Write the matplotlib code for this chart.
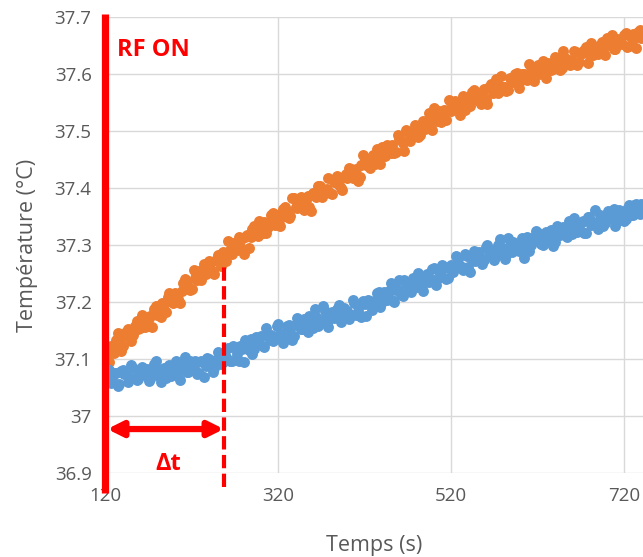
import matplotlib.pyplot as plt

# Sample times (s), first pass every 4 s
temps = [
    120, 124, 128, 132, 136, 140, 144, 148, 152, 156, 160, 164, 168, 172, 176, 180,
    184, 188, 192, 196, 200, 204, 208, 212, 216, 220, 224, 228, 232, 236, 240, 244,
    248, 252, 256, 260, 264, 268, 272, 276, 280, 284, 288, 292, 296, 300, 304, 308,
    312, 316, 320, 324, 328, 332, 336, 340, 344, 348, 352, 356, 360, 364, 368, 372,
    376, 380, 384, 388, 392, 396, 400, 404, 408, 412, 416, 420, 424, 428, 432, 436,
    440, 444, 448, 452, 456, 460, 464, 468, 472, 476, 480, 484, 488, 492, 496, 500,
    504, 508, 512, 516, 520, 524, 528, 532, 536, 540, 544, 548, 552, 556, 560, 564,
    568, 572, 576, 580, 584, 588, 592, 596, 600, 604, 608, 612, 616, 620, 624, 628,
    632, 636, 640, 644, 648, 652, 656, 660, 664, 668, 672, 676, 680, 684, 688, 692,
    696, 700, 704, 708, 712, 716, 720, 724, 728, 732, 736, 740,
]
# Intermediate samples
temps_mid = [
    122, 126, 130, 134, 138, 142, 146, 150, 154, 158, 162, 166, 170, 174, 178, 182,
    186, 190, 194, 198, 202, 206, 210, 214, 218, 222, 226, 230, 234, 238, 242, 246,
    250, 254, 258, 262, 266, 270, 274, 278, 282, 286, 290, 294, 298, 302, 306, 310,
    314, 318, 322, 326, 330, 334, 338, 342, 346, 350, 354, 358, 362, 366, 370, 374,
    378, 382, 386, 390, 394, 398, 402, 406, 410, 414, 418, 422, 426, 430, 434, 438,
    442, 446, 450, 454, 458, 462, 466, 470, 474, 478, 482, 486, 490, 494, 498, 502,
    506, 510, 514, 518, 522, 526, 530, 534, 538, 542, 546, 550, 554, 558, 562, 566,
    570, 574, 578, 582, 586, 590, 594, 598, 602, 606, 610, 614, 618, 622, 626, 630,
    634, 638, 642, 646, 650, 654, 658, 662, 666, 670, 674, 678, 682, 686, 690, 694,
    698, 702, 706, 710, 714, 718, 722, 726, 730, 734, 738,
]

# Orange series (°C)
temp_orange = [
    37.101, 37.095, 37.116, 37.133, 37.126, 37.123, 37.147, 37.144, 37.142, 37.167,
    37.155, 37.168, 37.158, 37.175, 37.187, 37.177, 37.174, 37.197, 37.209, 37.201,
    37.215, 37.206, 37.220, 37.240, 37.224, 37.223, 37.243, 37.254, 37.249, 37.249,
    37.272, 37.255, 37.274, 37.271, 37.287, 37.272, 37.291, 37.304, 37.291, 37.307,
    37.285, 37.317, 37.314, 37.333, 37.316, 37.329, 37.340, 37.332, 37.352, 37.336,
    37.353, 37.349, 37.366, 37.348, 37.382, 37.366, 37.376, 37.367, 37.379, 37.366,
    37.392, 37.385, 37.403, 37.389, 37.399, 37.392, 37.411, 37.422, 37.401, 37.419,
    37.418, 37.434, 37.422, 37.412, 37.440, 37.449, 37.440, 37.455, 37.442, 37.458,
    37.473, 37.456, 37.467, 37.476, 37.463, 37.487, 37.480, 37.502, 37.483, 37.499,
    37.498, 37.494, 37.518, 37.506, 37.517, 37.541, 37.517, 37.516, 37.538, 37.538,
    37.536, 37.553, 37.537, 37.549, 37.538, 37.559, 37.568, 37.557, 37.554, 37.568,
    37.557, 37.578, 37.567, 37.591, 37.579, 37.577, 37.571, 37.593, 37.587, 37.602,
    37.588, 37.600, 37.590, 37.606, 37.588, 37.616, 37.604, 37.612, 37.620, 37.607,
    37.630, 37.617, 37.611, 37.629, 37.625, 37.623, 37.639, 37.621, 37.638, 37.648,
    37.635, 37.633, 37.644, 37.652, 37.641, 37.664, 37.651, 37.645, 37.661, 37.654,
    37.669, 37.648, 37.666, 37.663, 37.675, 37.664,
]
temp_orange_mid = [
    37.088, 37.123, 37.111, 37.146, 37.114, 37.141, 37.153, 37.131, 37.158, 37.153,
    37.178, 37.156, 37.172, 37.156, 37.193, 37.181, 37.199, 37.182, 37.216, 37.198,
    37.212, 37.199, 37.234, 37.231, 37.221, 37.256, 37.238, 37.239, 37.266, 37.256,
    37.270, 37.250, 37.282, 37.263, 37.285, 37.308, 37.285, 37.295, 37.315, 37.293,
    37.315, 37.295, 37.329, 37.319, 37.343, 37.322, 37.321, 37.343, 37.357, 37.342,
    37.334, 37.364, 37.360, 37.351, 37.382, 37.365, 37.384, 37.361, 37.386, 37.360,
    37.391, 37.404, 37.385, 37.396, 37.418, 37.390, 37.416, 37.405, 37.397, 37.424,
    37.435, 37.417, 37.433, 37.420, 37.458, 37.440, 37.436, 37.458, 37.469, 37.442,
    37.463, 37.476, 37.462, 37.461, 37.494, 37.485, 37.466, 37.498, 37.490, 37.511,
    37.490, 37.511, 37.503, 37.532, 37.502, 37.523, 37.535, 37.521, 37.520, 37.554,
    37.541, 37.551, 37.528, 37.562, 37.555, 37.544, 37.573, 37.555, 37.548, 37.574,
    37.548, 37.583, 37.575, 37.567, 37.596, 37.578, 37.572, 37.593, 37.601, 37.576,
    37.601, 37.596, 37.618, 37.591, 37.613, 37.600, 37.623, 37.594, 37.616, 37.610,
    37.628, 37.607, 37.641, 37.621, 37.617, 37.641, 37.616, 37.637, 37.643, 37.619,
    37.655, 37.641, 37.636, 37.657, 37.634, 37.657, 37.669, 37.645, 37.659, 37.653,
    37.673, 37.650, 37.671, 37.646, 37.677,
]

# Blue series (°C)
temp_blue = [
    37.060, 37.080, 37.066, 37.075, 37.056, 37.080, 37.073, 37.066, 37.085, 37.063,
    37.078, 37.073, 37.083, 37.064, 37.091, 37.073, 37.060, 37.085, 37.080, 37.071,
    37.092, 37.076, 37.085, 37.103, 37.077, 37.083, 37.096, 37.075, 37.095, 37.087,
    37.100, 37.077, 37.099, 37.108, 37.094, 37.104, 37.096, 37.123, 37.108, 37.122,
    37.094, 37.124, 37.135, 37.118, 37.128, 37.141, 37.121, 37.142, 37.142, 37.136,
    37.161, 37.137, 37.146, 37.159, 37.134, 37.159, 37.168, 37.152, 37.161, 37.176,
    37.154, 37.173, 37.167, 37.193, 37.164, 37.178, 37.172, 37.188, 37.165, 37.189,
    37.185, 37.178, 37.199, 37.185, 37.174, 37.197, 37.204, 37.186, 37.202, 37.217,
    37.200, 37.207, 37.219, 37.204, 37.221, 37.238, 37.210, 37.231, 37.225, 37.242,
    37.226, 37.236, 37.219, 37.250, 37.240, 37.260, 37.240, 37.255, 37.262, 37.243,
    37.265, 37.260, 37.275, 37.261, 37.285, 37.261, 37.276, 37.272, 37.288, 37.266,
    37.297, 37.283, 37.292, 37.281, 37.310, 37.291, 37.282, 37.301, 37.306, 37.291,
    37.302, 37.277, 37.314, 37.301, 37.312, 37.322, 37.302, 37.313, 37.309, 37.327,
    37.306, 37.328, 37.326, 37.323, 37.343, 37.320, 37.336, 37.326, 37.343, 37.322,
    37.350, 37.341, 37.338, 37.352, 37.334, 37.352, 37.347, 37.364, 37.343, 37.356,
    37.342, 37.363, 37.352, 37.370, 37.359, 37.372,
]
temp_blue_mid = [
    37.082, 37.058, 37.076, 37.053, 37.079, 37.073, 37.059, 37.090, 37.067, 37.065,
    37.086, 37.072, 37.061, 37.083, 37.096, 37.070, 37.081, 37.066, 37.090, 37.076,
    37.096, 37.063, 37.087, 37.077, 37.097, 37.085, 37.073, 37.096, 37.068, 37.101,
    37.096, 37.084, 37.113, 37.092, 37.099, 37.119, 37.096, 37.119, 37.096, 37.118,
    37.133, 37.115, 37.108, 37.138, 37.136, 37.123, 37.155, 37.134, 37.132, 37.158,
    37.145, 37.128, 37.158, 37.155, 37.141, 37.172, 37.152, 37.171, 37.147, 37.169,
    37.187, 37.158, 37.168, 37.184, 37.157, 37.183, 37.173, 37.194, 37.173, 37.184,
    37.171, 37.204, 37.177, 37.194, 37.201, 37.175, 37.202, 37.196, 37.215, 37.192,
    37.217, 37.203, 37.234, 37.200, 37.221, 37.213, 37.238, 37.222, 37.217, 37.240,
    37.251, 37.228, 37.241, 37.236, 37.258, 37.230, 37.255, 37.265, 37.241, 37.260,
    37.253, 37.280, 37.263, 37.256, 37.280, 37.253, 37.289, 37.284, 37.276, 37.273,
    37.301, 37.286, 37.274, 37.300, 37.296, 37.276, 37.313, 37.288, 37.301, 37.289,
    37.313, 37.296, 37.289, 37.313, 37.324, 37.307, 37.300, 37.323, 37.317, 37.299,
    37.334, 37.317, 37.332, 37.315, 37.326, 37.348, 37.323, 37.339, 37.322, 37.349,
    37.335, 37.361, 37.329, 37.350, 37.339, 37.360, 37.348, 37.334, 37.362, 37.357,
    37.345, 37.371, 37.352, 37.373, 37.355,
]

x_ticks = [120, 320, 520, 720]
y_ticks = [36.9, 37.0, 37.1, 37.2, 37.3, 37.4, 37.5, 37.6, 37.7]
y_labels = ["36.9", "37", "37.1", "37.2", "37.3", "37.4", "37.5", "37.6", "37.7"]

t_rf_on = 120
t_delta = 257

plt.rcParams["font.family"] = ["Open Sans", "DejaVu Sans"]
grey = "#595959"
red = "#FF0000"

fig = plt.figure(figsize=(6.43, 5.57), dpi=100)
ax = fig.add_axes([0.164, 0.151, 0.836, 0.818])

ax.scatter(temps + temps_mid, temp_orange + temp_orange_mid,
           s=62, c="#ED7D31", lw=0, zorder=3)
ax.scatter(temps + temps_mid, temp_blue + temp_blue_mid,
           s=62, c="#5B9BD5", lw=0, zorder=3)

ax.set_xlim(120, 742)
ax.set_ylim(36.9, 37.7)
ax.set_xticks(x_ticks)
ax.set_yticks(y_ticks)
ax.set_yticklabels(y_labels)
ax.tick_params(length=0, labelsize=13.5, labelcolor=grey, pad=10)
ax.grid(True, color="#D9D9D9", lw=1, zorder=0)
ax.set_axisbelow(True)
for s in ax.spines.values():
    s.set_visible(False)

ax.set_xlabel("Temps (s)", fontsize=15.5, color=grey, labelpad=22)
ax.set_ylabel("Température (°C)", fontsize=15.5, color=grey, labelpad=12)

# RF ON marker line
ax.plot([t_rf_on, t_rf_on], [36.865, 37.705], color=red, lw=5.2,
        solid_capstyle="butt", clip_on=False, zorder=5)
ax.text(133, 37.642, "RF ON", color=red, fontsize=17, fontweight="bold",
        va="center", ha="left")

# Delta t annotation
ax.plot([t_delta, t_delta], [36.875, 37.266], color=red, lw=3,
        dashes=(3.2, 1.3), clip_on=False, zorder=5)
ax.annotate("", xy=(t_rf_on + 2, 36.977), xytext=(t_delta, 36.977),
            arrowprops=dict(arrowstyle="<|-|>", color=red, lw=4.5,
                            mutation_scale=22, shrinkA=0, shrinkB=0),
            zorder=5)
ax.text((t_rf_on + t_delta) / 2 + 4, 36.915, "Δt", color=red, fontsize=17,
        fontweight="bold", ha="center", va="center")

fig.savefig("out.png", dpi=100)
